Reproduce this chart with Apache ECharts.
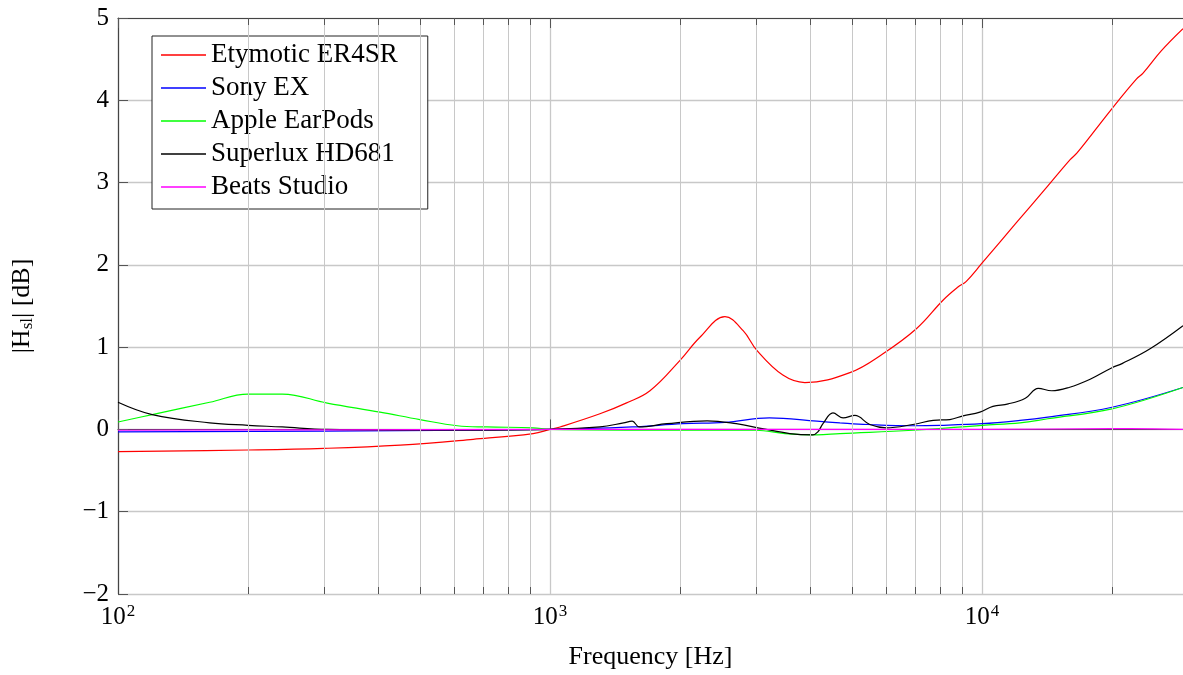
<!DOCTYPE html>
<html>
<head>
<meta charset="utf-8">
<script src="https://cdn.jsdelivr.net/npm/echarts@6/dist/echarts.min.js"></script>
<style>
  html, body { margin: 0; padding: 0; background: #fff; }
  #chart { width: 1183px; height: 675px; }
</style>
</head>
<body>
<div id="chart"></div>
<script>
// frequency (Hz) and |Hsl| (dB) for each headphone
const etyFreq = [100, 200, 300, 450, 664, 914, 1000, 1055, 1305, 1500, 1704, 2000, 2224, 2541, 2800, 3013, 3460, 3890, 4946, 5900, 7070, 8125, 8800, 9200, 10000, 12000, 14000, 16000, 16600, 20000, 22800, 23600, 26000, 29200]
const ety = [-0.27, -0.25, -0.23, -0.19, -0.12, -0.05, 0.0, 0.03, 0.19, 0.32, 0.47, 0.84, 1.12, 1.37, 1.2, 0.96, 0.66, 0.57, 0.69, 0.92, 1.23, 1.57, 1.73, 1.8, 2.02, 2.51, 2.92, 3.28, 3.36, 3.9, 4.26, 4.33, 4.6, 4.87]

const sonyFreq = [100, 300, 1000, 1550, 2030, 2540, 3220, 4150, 4690, 5440, 6920, 8000, 10000, 12250, 14200, 20000, 29200]
const sony = [-0.03, -0.02, 0, 0.03, 0.07, 0.085, 0.14, 0.1, 0.08, 0.06, 0.045, 0.05, 0.07, 0.11, 0.15, 0.27, 0.51]

const appleFreq = [100, 120, 163, 200, 240, 305, 404, 500, 610, 714, 914, 1000, 2000, 3000, 3500, 4150, 4690, 6920, 10000, 12250, 14200, 20000, 29200]
const apple = [0.09, 0.18, 0.33, 0.43, 0.43, 0.32, 0.21, 0.12, 0.045, 0.03, 0.02, 0, -0.01, -0.01, -0.05, -0.065, -0.05, -0.01, 0.05, 0.08, 0.13, 0.25, 0.51]

const superFreq = [100, 120, 163, 200, 240, 305, 600, 1000, 1305, 1480, 1550, 1610, 1865, 2310, 2700, 3100, 3590, 4060, 4170, 4285, 4520, 4770, 5080, 5500, 6000, 6920, 7710, 8430, 9040, 9890, 10600, 11500, 12600, 13500, 14500, 15900, 17800, 20000, 21100, 24500, 29200]
const superlux = [0.33, 0.18, 0.08, 0.05, 0.03, 0.0, -0.01, 0, 0.03, 0.08, 0.1, 0.03, 0.07, 0.105, 0.07, 0.01, -0.05, -0.065, -0.03, 0.07, 0.2, 0.14, 0.17, 0.06, 0.02, 0.06, 0.11, 0.12, 0.165, 0.21, 0.28, 0.31, 0.38, 0.5, 0.47, 0.51, 0.61, 0.75, 0.8, 0.98, 1.26]

const beatsFreq = [100, 300, 1000, 5000, 10000, 20000, 22000, 29200]
const beats = [-0.01, -0.005, 0, 0, 0, 0.01, 0.01, 0]

const names = ['Etymotic ER4SR', 'Sony EX', 'Apple EarPods', 'Superlux HD681', 'Beats Studio']
const colors = ['#ff0000', '#0000ff', '#00ff00', '#000000', '#ff00ff']

const majorTicks = [100, 1000, 10000]
const minorTicks = [200, 300, 400, 500, 600, 700, 800, 900, 2000, 3000, 4000, 5000, 6000, 7000, 8000, 9000, 20000]

const FONT = 'Liberation Serif'
const xMin = 100
const xMax = 29200
const yMin = -2
const yMax = 5

const zip = (xs, ys) => xs.map((x, i) => [x, ys[i]])

const lineSeries = (name, color, xs, ys) => ({
    name: name,
    type: 'line',
    data: zip(xs, ys),
    symbol: 'none',
    smooth: 0.4,
    lineStyle: { color: color, width: 1.2 },
    itemStyle: { color: color },
    z: 3
})

// minor grid lines and minor tick marks, the log axis doesn't place them at 2..9
const minorGrid = {
    type: 'line',
    data: [],
    silent: true,
    z: 1,
    markLine: {
        silent: true,
        symbol: 'none',
        animation: false,
        label: { show: false },
        lineStyle: { color: '#c8c8c8', width: 1, type: 'solid' },
        data: minorTicks.map(f => ({ xAxis: f }))
    }
}
const minorTickMarks = {
    type: 'line',
    data: [],
    silent: true,
    z: 2,
    markLine: {
        silent: true,
        symbol: 'none',
        animation: false,
        label: { show: false },
        lineStyle: { color: '#555', width: 1, type: 'solid' },
        data: minorTicks.flatMap(f => [
            [{ coord: [f, yMin] }, { coord: [f, yMin + 0.085] }],
            [{ coord: [f, yMax] }, { coord: [f, yMax - 0.085] }]
        ])
    }
}

const chart = echarts.init(document.getElementById('chart'))
chart.setOption({
    animation: false,
    textStyle: { fontFamily: FONT, color: '#000' },
    grid: { left: 118, right: 0, top: 18, bottom: 81 },
    legend: {
        data: names.map((n, i) => ({ name: n, icon: 'rect', itemStyle: { color: colors[i] } })),
        orient: 'vertical',
        left: 152,
        top: 36,
        padding: [5, 30, 8, 9],
        itemWidth: 45,
        itemHeight: 1.3,
        itemGap: 5,
        borderColor: '#222',
        borderWidth: 1,
        backgroundColor: '#fff',
        textStyle: { fontFamily: FONT, fontSize: 27, lineHeight: 28, color: '#000' }
    },
    xAxis: [
        {
            type: 'log',
            logBase: 10,
            min: xMin,
            max: xMax,
            name: 'Frequency [Hz]',
            nameLocation: 'middle',
            nameGap: 50,
            nameTextStyle: { fontFamily: FONT, fontSize: 26, color: '#000' },
            axisLine: { show: true, lineStyle: { color: '#444', width: 1.2 } },
            axisTick: { show: true, inside: true, length: 10, customValues: majorTicks, lineStyle: { color: '#555' } },
            splitLine: { show: true, lineStyle: { color: '#c8c8c8', width: 1.3 } },
            axisLabel: {
                customValues: majorTicks,
                margin: 9,
                formatter: v => '{b|10}{s|' + Math.round(Math.log10(v)) + '}',
                rich: {
                    b: { fontFamily: FONT, fontSize: 25, color: '#000' },
                    s: { fontFamily: FONT, fontSize: 17, color: '#000', padding: [0, 0, 12, 1] }
                }
            }
        },
        {
            type: 'log',
            logBase: 10,
            min: xMin,
            max: xMax,
            position: 'top',
            axisLine: { show: true, lineStyle: { color: '#444', width: 1.2 } },
            axisTick: { show: true, inside: true, length: 10, customValues: majorTicks, lineStyle: { color: '#555' } },
            axisLabel: { show: false },
            splitLine: { show: false }
        }
    ],
    yAxis: {
        type: 'value',
        min: yMin,
        max: yMax,
        interval: 1,
        name: '|H{sub|sl}| [dB]',
        nameLocation: 'middle',
        nameGap: 82,
        nameRotate: 90,
        nameTextStyle: {
            fontFamily: FONT,
            fontSize: 26,
            color: '#000',
            rich: { sub: { fontFamily: FONT, fontSize: 17, color: '#000', padding: [10, 0, 0, 0] } }
        },
        axisLine: { show: true, lineStyle: { color: '#444', width: 1.2 } },
        axisTick: { show: true, inside: true, length: 10, lineStyle: { color: '#555' } },
        splitLine: { show: true, lineStyle: { color: '#c8c8c8', width: 1.3 } },
        axisLabel: {
            margin: 9,
            fontFamily: FONT,
            fontSize: 25,
            color: '#000',
            formatter: v => (v < 0 ? '\u2212' + Math.abs(v) : String(v))
        }
    },
    series: [
        minorGrid,
        minorTickMarks,
        lineSeries(names[0], colors[0], etyFreq, ety),
        lineSeries(names[1], colors[1], sonyFreq, sony),
        lineSeries(names[2], colors[2], appleFreq, apple),
        lineSeries(names[3], colors[3], superFreq, superlux),
        lineSeries(names[4], colors[4], beatsFreq, beats)
    ]
})
</script>
</body>
</html>
